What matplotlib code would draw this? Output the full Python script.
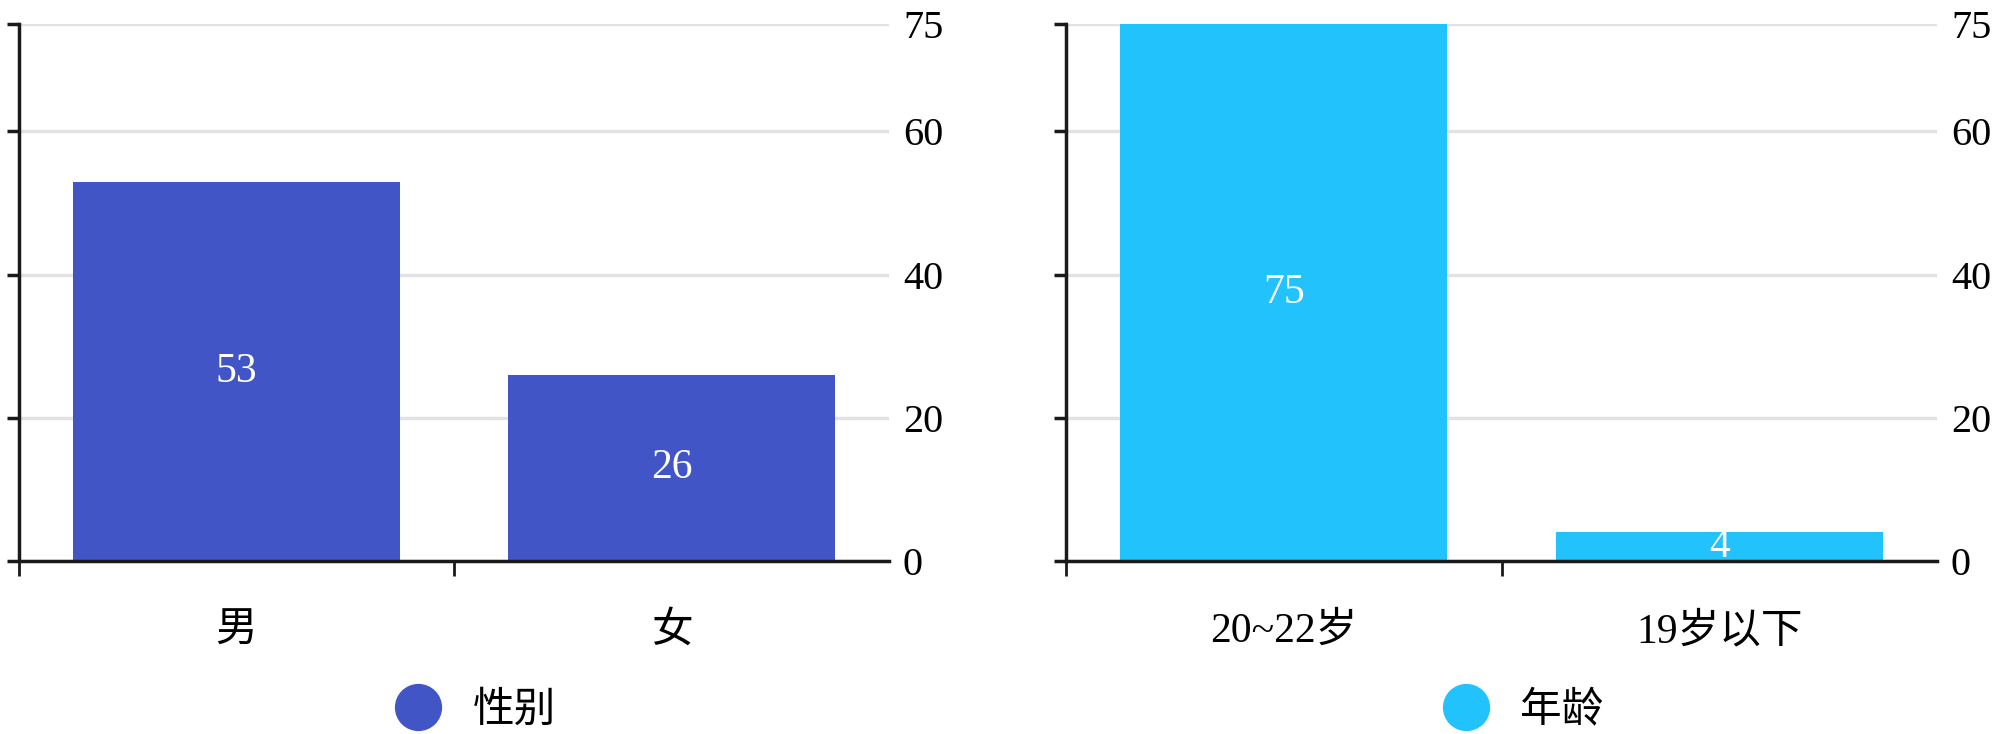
import matplotlib
matplotlib.use("Agg")
import matplotlib.pyplot as plt
from matplotlib.lines import Line2D

plt.rcParams['font.family'] = ['Liberation Serif', 'Noto Sans CJK SC', 'DejaVu Sans']

# Data
gender_cats = ["男", "女"]
gender_vals = [53, 26]
gender_name = "性别"
age_cats = ["20~22岁", "19岁以下"]
age_vals = [75, 4]
age_name = "年龄"
y_ticks = [0, 20, 40, 60, 75]

panels = [
    (gender_cats, gender_vals, gender_name, "#4155C6", [0.0095, 0.2357, 0.435, 0.7316]),
    (age_cats, age_vals, age_name, "#22C3FD", [0.533, 0.2357, 0.4355, 0.7316]),
]

fig = plt.figure(figsize=(20, 7.34), dpi=100)

for cats, vals, name, color, rect in panels:
    ax = fig.add_axes(rect)
    x = list(range(len(cats)))
    ax.bar(x, vals, width=0.75, color=color, zorder=2)
    for xi, v in zip(x, vals):
        ax.text(xi, v / 2, str(v), ha='center', va='center', color='white', fontsize=30, zorder=3)
    ax.set_xlim(-0.5, len(cats) - 0.5)
    ax.set_ylim(0, 75)
    ax.set_yticks(y_ticks)
    ax.yaxis.grid(True, color='#e2e2e2', lw=2.5, zorder=0)
    ax.set_axisbelow(True)
    for s in ['top', 'right']:
        ax.spines[s].set_visible(False)
    for s in ['left', 'bottom']:
        ax.spines[s].set_color('#1a1a1a')
        ax.spines[s].set_linewidth(2.5)
        ax.spines[s].set_zorder(4)
    ax.tick_params(axis='y', left=True, right=False, labelleft=False, labelright=True,
                   length=9, width=2.5, color='#1a1a1a', labelsize=29, pad=1)
    # x: boundary ticks (major) and category labels (minor)
    ax.set_xticks([i - 0.5 for i in x])
    ax.set_xticklabels([])
    ax.set_xticks(x, minor=True)
    ax.set_xticklabels(cats, minor=True)
    ax.tick_params(axis='x', which='major', length=11, width=2, color='#1a1a1a')
    ax.tick_params(axis='x', which='minor', length=0, labelsize=30, pad=37)
    handle = Line2D([], [], marker='o', linestyle='none', markersize=33,
                    markerfacecolor=color, markeredgecolor=color)
    ax.legend([handle], [name], loc='center', bbox_to_anchor=(0.514, -0.28),
              frameon=False, fontsize=30, handletextpad=0.3)

fig.savefig("out.png", dpi=100, facecolor='white')
